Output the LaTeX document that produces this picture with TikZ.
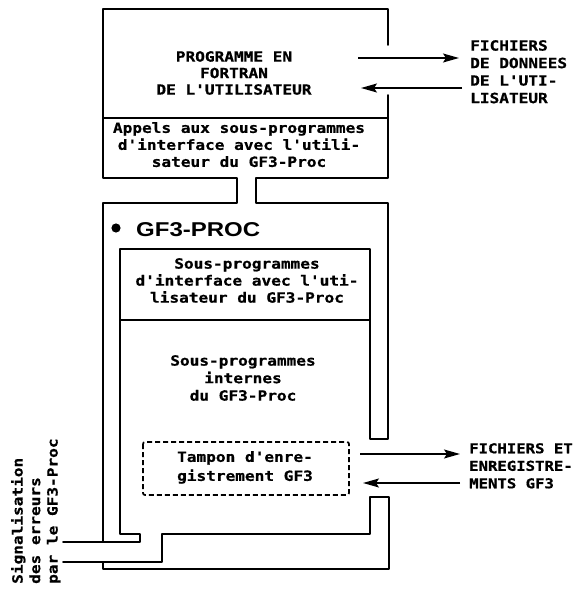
\documentclass[tikz,border=0pt]{standalone}
\usepackage{fontspec}
\newfontfamily\twfont[FakeStretch=1.15,BoldFeatures={FakeBold=0.8}]{DejaVu Sans Mono}
\newfontfamily\hvfont[FakeStretch=1.2]{Liberation Sans}
\usetikzlibrary{arrows.meta}
\begin{document}
\begin{tikzpicture}[x=1pt,y=-1pt,
  wall/.style={line width=1.9pt, line cap=round, line join=round},
  txt/.style={font={\twfont\bfseries\fontsize{14}{17}\selectfont}, align=center, inner sep=0pt, anchor=north},
  sidetxt/.style={font={\twfont\bfseries\fontsize{14}{17.5}\selectfont}, align=left, inner sep=0pt, anchor=north west},
  flow/.style={line width=1.5pt, -{Stealth[length=16pt,width=9pt,inset=3pt]}},
  dashbox/.style={line width=1.7pt, dash pattern=on 5pt off 3pt, rounded corners=2pt},
]
\useasboundingbox (0,0) rectangle (578,589);

% ---- user program box, GF3-PROC outer box, inner box
\draw[wall] (388,45) -- (388,9) -- (103,9) -- (103,178) -- (237,178) -- (237,203) -- (103,203) -- (103,542);
\draw[wall] (388,95) -- (388,178) -- (256,178) -- (256,203) -- (388,203) -- (388,439) -- (370,439) -- (370,249) -- (120,249) -- (120,534) -- (140,534) -- (140,542) -- (63,542);
\draw[wall] (103,118) -- (388,118);
\draw[wall] (120,320) -- (370,320);
% ---- lower channel
\draw[wall] (63,562) -- (162,562) -- (162,534) -- (370,534) -- (370,497) -- (389,497) -- (389,569) -- (103,569) -- (103,562);

% ---- buffer
\draw[dashbox] (143,442) rectangle (349,495);

% ---- texts
\node[txt, font={\twfont\bfseries\fontsize{14}{16.5}\selectfont}] (prog) at (234,51) {PROGRAMME EN\\FORTRAN\\DE L'UTILISATEUR};
\node[txt] (appels) at (239,122) {Appels aux sous-programmes\\d'interface avec l'utili-\\sateur du GF3-Proc};
\node[txt] (interf) at (247,258) {Sous-programmes\\d'interface avec l'uti-\\lisateur du GF3-Proc};
\node[txt, font={\twfont\bfseries\fontsize{14}{17.5}\selectfont}] (intern) at (243,355) {Sous-programmes\\internes\\du GF3-Proc};
\node[txt, font={\twfont\bfseries\fontsize{14}{19}\selectfont}] (tampon) at (245,451) {Tampon d'enre-\\gistrement GF3};

\node[sidetxt] (fdon) at (470,40) {FICHIERS\\DE DONNEES\\DE L'UTI-\\LISATEUR};
\node[sidetxt, font={\twfont\bfseries\fontsize{13.6}{17.5}\selectfont}] (fgf3) at (469,443) {FICHIERS ET\\ENREGISTRE-\\MENTS GF3};
\node[sidetxt, rotate=90] (signal) at (11,584) {Signalisation\\des erreurs\\par le GF3-Proc};

\fill (116,228) circle (4.6pt);
\node[font={\hvfont\bfseries\fontsize{20}{24}\selectfont}, anchor=base west, inner sep=0pt] (gf3) at (136,236) {GF3-PROC};

% ---- flows
\coordinate (p1) at (358,58);  \coordinate (q1) at (459,58);
\coordinate (p2) at (462,88);  \coordinate (q2) at (361,88);
\coordinate (p3) at (360,454); \coordinate (q3) at (460,454);
\coordinate (p4) at (460,483); \coordinate (q4) at (363,483);
\draw[flow] (p1) -- (q1);
\draw[flow] (p2) -- (q2);
\draw[flow] (p3) -- (q3);
\draw[flow] (p4) -- (q4);
\end{tikzpicture}
\end{document}
